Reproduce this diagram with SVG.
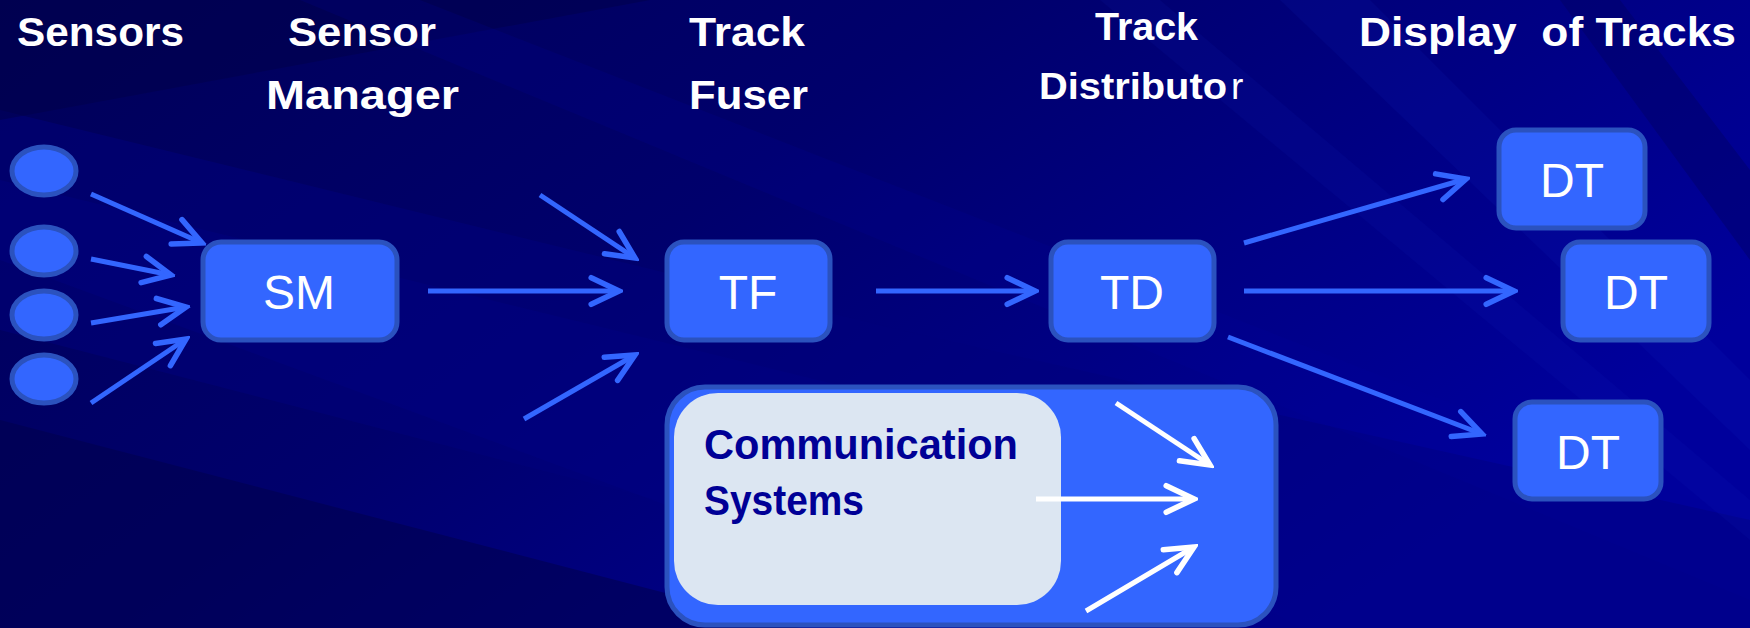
<svg xmlns="http://www.w3.org/2000/svg" width="1750" height="628" viewBox="0 0 1750 628">
<defs>
<linearGradient id="bg" x1="0" y1="0" x2="1" y2="0.5">
<stop offset="0" stop-color="#000058"/>
<stop offset="0.45" stop-color="#00006C"/>
<stop offset="1" stop-color="#00009C"/>
</linearGradient>
<marker id="ahB" markerUnits="userSpaceOnUse" markerWidth="40" markerHeight="40" viewBox="-32 -18 36 36" refX="0" refY="0" orient="auto">
<path d="M-25,-12 L0,0 L-25,12" fill="none" stroke="#3366FF" stroke-width="5" stroke-linecap="round" stroke-linejoin="miter"/>
</marker>
<marker id="ahW" markerUnits="userSpaceOnUse" markerWidth="40" markerHeight="40" viewBox="-32 -18 36 36" refX="0" refY="0" orient="auto">
<path d="M-25,-12 L0,0 L-25,12" fill="none" stroke="#FFFFFF" stroke-width="5" stroke-linecap="round" stroke-linejoin="miter"/>
</marker>
</defs>
<style>
.node{fill:#3366FF;stroke:#2B52BE;stroke-width:5}
.lbl{font-family:"Liberation Sans",Arial,sans-serif;font-size:48px;fill:#FFFFFF;text-anchor:middle}
.ttl{font-family:"Liberation Sans",Arial,sans-serif;font-weight:bold;font-size:40px;fill:#FFFFFF;white-space:pre}
.cb{stroke:#3366FF;stroke-width:5;fill:none;marker-end:url(#ahB)}
.cw{stroke:#FFFFFF;stroke-width:5;fill:none;marker-end:url(#ahW)}
.comm{font-family:"Liberation Sans",Arial,sans-serif;font-weight:bold;font-size:43px;fill:#000096}
</style>
<g id="background">
<rect x="0" y="0" width="1750" height="628" fill="url(#bg)"/>
<polygon points="0,110 900,330 1750,520 1750,628 1150,628 0,330" fill="#00007C" opacity="0.5"/>
<polygon points="0,180 900,400 1300,628 1000,628 0,260" fill="#000088" opacity="0.3"/>
<polygon points="0,420 800,628 0,628" fill="#00004C" opacity="0.55"/>
<polygon points="0,0 650,0 0,120" fill="#000048" opacity="0.45"/>
<polygon points="300,0 420,0 1750,520 1750,600" fill="#00009A" opacity="0.18"/>
<polygon points="1280,0 1370,0 1750,380 1750,450" fill="#1428C8" opacity="0.12"/>
<polygon points="1100,0 1160,0 1750,500 1750,540" fill="#1428C8" opacity="0.1"/>
<polygon points="1560,0 1620,0 1750,170 1750,260" fill="#000060" opacity="0.4"/>
</g>
<g id="titles">
<text class="ttl" x="17" y="46" textLength="167" lengthAdjust="spacingAndGlyphs">Sensors</text>
<text class="ttl" x="288" y="46" textLength="148" lengthAdjust="spacingAndGlyphs">Sensor</text>
<text class="ttl" x="266" y="109" textLength="193" lengthAdjust="spacingAndGlyphs">Manager</text>
<text class="ttl" x="689" y="46" textLength="116" lengthAdjust="spacingAndGlyphs">Track</text>
<text class="ttl" x="689" y="109" textLength="119" lengthAdjust="spacingAndGlyphs">Fuser</text>
<text class="ttl" x="1095" y="40" style="font-size:38px" textLength="103" lengthAdjust="spacingAndGlyphs">Track</text>
<text class="ttl" x="1039" y="99" style="font-size:37px" textLength="188" lengthAdjust="spacingAndGlyphs">Distributo</text>
<text class="ttl" x="1231" y="99" style="font-size:37px;font-weight:normal">r</text>
<text class="ttl" x="1359" y="46" textLength="377" lengthAdjust="spacingAndGlyphs">Display  of Tracks</text>
</g>
<g id="sensors">
<ellipse class="node" cx="44" cy="171" rx="32" ry="24"/>
<ellipse class="node" cx="44" cy="251" rx="32" ry="24"/>
<ellipse class="node" cx="44" cy="315" rx="32" ry="24"/>
<ellipse class="node" cx="44" cy="379" rx="32" ry="24"/>
</g>
<g id="SM">
<rect class="node" x="203" y="242" width="194" height="98" rx="18"/>
<text class="lbl" x="299" y="309">SM</text>
</g>
<g id="TF">
<rect class="node" x="667" y="242" width="163" height="98" rx="17"/>
<text class="lbl" x="748" y="309">TF</text>
</g>
<g id="TD">
<rect class="node" x="1051" y="242" width="163" height="98" rx="17"/>
<text class="lbl" x="1132" y="309">TD</text>
</g>
<g id="DT1">
<rect class="node" x="1499" y="130" width="146" height="98" rx="17"/>
<text class="lbl" x="1572" y="197">DT</text>
</g>
<g id="DT2">
<rect class="node" x="1563" y="242" width="146" height="98" rx="17"/>
<text class="lbl" x="1636" y="309">DT</text>
</g>
<g id="DT3">
<rect class="node" x="1515" y="402" width="146" height="97" rx="17"/>
<text class="lbl" x="1588" y="469">DT</text>
</g>
<g id="comm">
<rect class="node" x="667" y="387" width="609" height="238" rx="38"/>
<rect x="674" y="393" width="387" height="212" rx="44" fill="#DCE6F2"/>
<text class="comm" x="704" y="459" textLength="314" lengthAdjust="spacingAndGlyphs">Communication</text>
<text class="comm" x="704" y="515" textLength="160" lengthAdjust="spacingAndGlyphs">Systems</text>
</g>
<g id="connectors">
<line class="cb" x1="91" y1="194" x2="202" y2="243"/>
<line class="cb" x1="91" y1="259" x2="171" y2="275"/>
<line class="cb" x1="91" y1="323" x2="186" y2="307"/>
<line class="cb" x1="91" y1="403" x2="186" y2="339"/>
<line class="cb" x1="428" y1="291" x2="619" y2="291"/>
<line class="cb" x1="540" y1="195" x2="635" y2="258"/>
<line class="cb" x1="524" y1="419" x2="635" y2="355"/>
<line class="cb" x1="876" y1="291" x2="1035" y2="291"/>
<line class="cb" x1="1244" y1="243" x2="1466" y2="179"/>
<line class="cb" x1="1244" y1="291" x2="1514" y2="291"/>
<line class="cb" x1="1228" y1="337" x2="1482" y2="434"/>
<line class="cw" x1="1116" y1="403" x2="1210" y2="465"/>
<line class="cw" x1="1036" y1="499" x2="1194" y2="499"/>
<line class="cw" x1="1086" y1="611" x2="1194" y2="547"/>
</g>
</svg>
